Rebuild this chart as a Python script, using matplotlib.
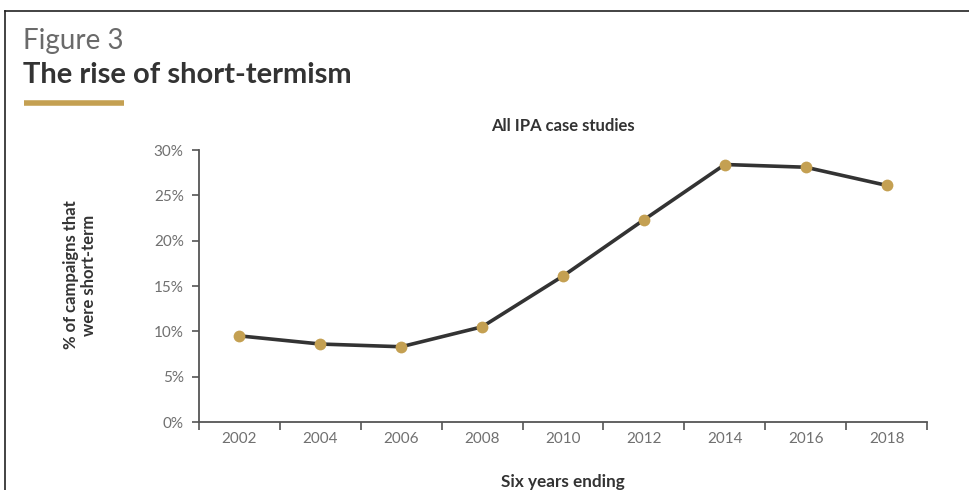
import matplotlib
matplotlib.use("Agg")
import matplotlib.pyplot as plt
from matplotlib.lines import Line2D
from matplotlib.ticker import FixedLocator, FuncFormatter

years = ["2002", "2004", "2006", "2008", "2010", "2012", "2014", "2016", "2018"]
short_term_pct = [9.5, 8.6, 8.3, 10.5, 16.1, 22.3, 28.4, 28.1, 26.1]
y_ticks = [0, 5, 10, 15, 20, 25, 30]

GOLD = "#C4A052"
DARK = "#333333"
GREY = "#555555"
FONT = "Lato"

W, H = 969, 490
fig = plt.figure(figsize=(W / 100, H / 100), dpi=100)
fig.patch.set_facecolor("white")

# outer frame: top and left edges
fig.add_artist(Line2D([5 / W, 1.0], [1 - 11 / H, 1 - 11 / H], color="#222222", lw=1.2,
                      transform=fig.transFigure))
fig.add_artist(Line2D([5 / W, 5 / W], [0, 1 - 11 / H], color="#222222", lw=1.2,
                      transform=fig.transFigure))

# heading
fig.text(23 / W, 1 - 41 / H, "Figure 3", fontsize=20, family=FONT, weight="normal",
         color="#6a6a6a", va="center", ha="left")
fig.text(23 / W, 1 - 75 / H, "The rise of short-termism", fontsize=21, family=FONT,
         weight="bold", color="#333333", va="center", ha="left")
fig.add_artist(Line2D([24 / W, 124 / W], [1 - 103 / H, 1 - 103 / H], color=GOLD, lw=4,
                      solid_capstyle="butt", transform=fig.transFigure))

ax = fig.add_axes([199 / W, 1 - 422 / H, (927 - 199) / W, (422 - 150) / H])
x = list(range(len(years)))
ax.plot(x, short_term_pct, color=DARK, lw=2.6, zorder=2, solid_joinstyle="round")
ax.plot(x, short_term_pct, linestyle="none", marker="o", markersize=8.5,
        markerfacecolor=GOLD, markeredgecolor="none", zorder=3)

ax.set_xlim(-0.5, len(years) - 0.5)
ax.set_ylim(0, 30)
for s in ["top", "right"]:
    ax.spines[s].set_visible(False)
for s in ["left", "bottom"]:
    ax.spines[s].set_color(GREY)
    ax.spines[s].set_linewidth(1.3)

ax.set_yticks(y_ticks)
ax.yaxis.set_major_formatter(FuncFormatter(lambda v, p: f"{v:.0f}%"))
ax.tick_params(axis="y", length=5, width=1.2, color=GREY, labelsize=11,
               labelcolor="#707070", pad=6)

ax.set_xticks(x)
ax.set_xticklabels(years)
ax.xaxis.set_minor_locator(FixedLocator([i - 0.5 for i in range(len(years) + 1)]))
ax.tick_params(axis="x", which="major", length=0, labelsize=11, labelcolor="#707070", pad=7)
ax.tick_params(axis="x", which="minor", length=6, width=1.2, color=GREY)
for lab in ax.get_xticklabels() + ax.get_yticklabels():
    lab.set_family(FONT)

ax.set_title("All IPA case studies", fontsize=12, family=FONT, weight="bold",
             color="#333333", pad=14)
ax.set_xlabel("Six years ending", fontsize=12.3, family=FONT, weight="bold",
              color="#333333", labelpad=20)
fig.text(80 / W, 1 - 275 / H, "% of campaigns that\nwere short-term", rotation=90,
         fontsize=12, family=FONT, weight="bold", color="#333333",
         ha="center", va="center", linespacing=1.1)

fig.savefig("out.png", dpi=100, facecolor="white")
